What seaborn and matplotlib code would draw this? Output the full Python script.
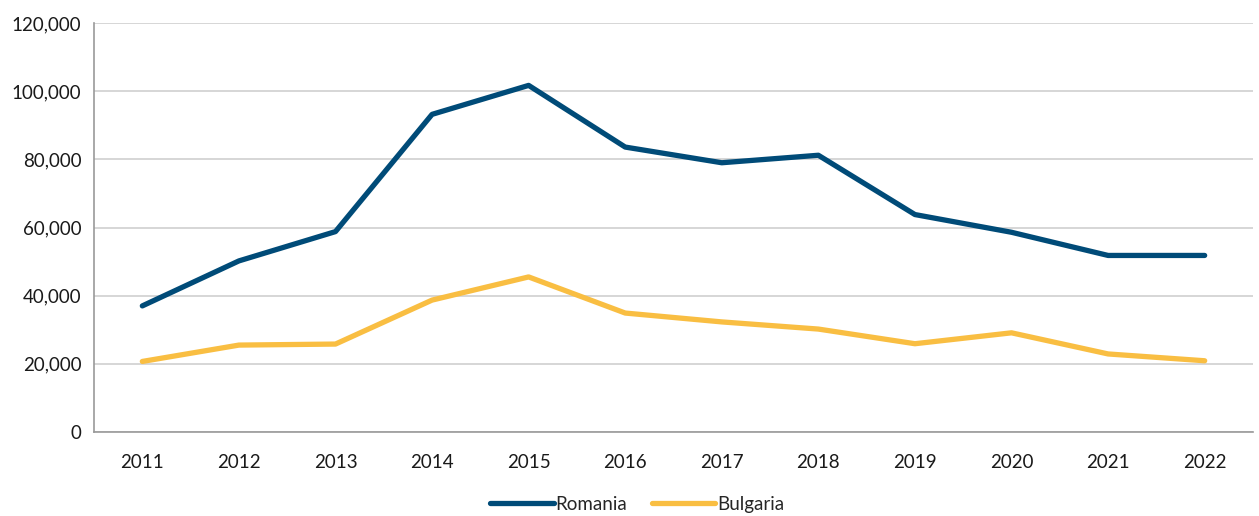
import numpy as np
import pandas as pd
import seaborn as sns
import matplotlib.pyplot as plt
from matplotlib.ticker import FuncFormatter, FixedLocator

years = ['2011', '2012', '2013', '2014', '2015', '2016', '2017', '2018', '2019', '2020', '2021', '2022']
romania = [37000, 50200, 58800, 93200, 101700, 83600, 79000, 81200, 63800, 58600, 51800, 51800]
bulgaria = [20700, 25500, 25800, 38700, 45500, 34900, 32300, 30200, 25900, 29100, 22900, 20900]

df = pd.DataFrame({'year': years * 2,
                   'value': romania + bulgaria,
                   'country': ['Romania'] * len(years) + ['Bulgaria'] * len(years)})

sns.set_theme(style='white')
plt.rcParams['font.family'] = ['Lato', 'DejaVu Sans']

fig = plt.figure(figsize=(12.59, 5.16), dpi=100)
ax = fig.add_axes([0.0747, 0.1628, 0.9205, 0.7926])

palette = {'Romania': '#004B78', 'Bulgaria': '#F9BE42'}
sns.lineplot(data=df, x='year', y='value', hue='country', palette=palette,
             linewidth=3.8, ax=ax, sort=False, solid_capstyle='round')

ax.set_xlim(-0.5, len(years) - 0.5)
ax.set_ylim(0, 120000)
ax.set_yticks(np.arange(0, 120001, 20000))
ax.yaxis.set_major_formatter(FuncFormatter(lambda v, p: f'{int(v):,}'))
ax.yaxis.grid(True, color='#D0D0D0', linewidth=1.2)
ax.set_axisbelow(True)

# ticks between categories, labels centered
ax.set_xticks(np.arange(len(years)))
ax.set_xticklabels(years)
ax.xaxis.set_minor_locator(FixedLocator(np.arange(-0.5, len(years), 1)))
ax.tick_params(axis='x', which='major', length=0, pad=16, labelsize=13.5, colors='#1a1a1a')
ax.tick_params(axis='x', which='minor', length=5, width=1.2, color='#999999', direction='out')
ax.tick_params(axis='y', length=5, width=1.2, color='#999999', labelsize=13.5, colors='#1a1a1a', pad=4)

for s in ['top', 'right']:
    ax.spines[s].set_visible(False)
for s in ['left', 'bottom']:
    ax.spines[s].set_color('#999999')
    ax.spines[s].set_linewidth(1.2)

ax.set_xlabel('')
ax.set_ylabel('')

handles, labels = ax.get_legend_handles_labels()
ax.get_legend().remove()
fig.legend(handles, labels, loc='center', bbox_to_anchor=(0.506, 0.023), ncol=2,
           frameon=False, fontsize=13.5, handlelength=3.4, handletextpad=0.1, columnspacing=1.3)

fig.savefig('out.png', dpi=100)
